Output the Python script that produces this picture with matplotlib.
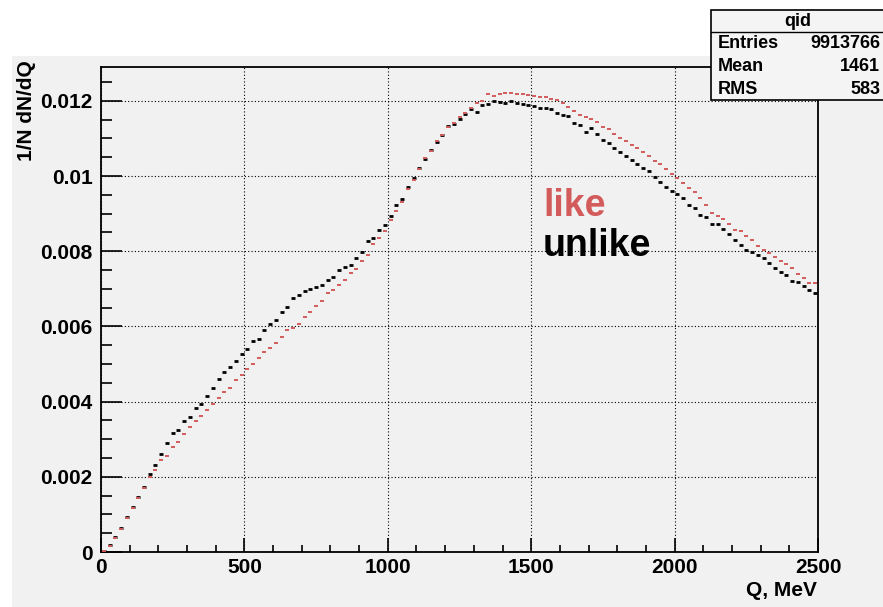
import numpy as np
import matplotlib
matplotlib.use("Agg")
import matplotlib.pyplot as plt
from matplotlib.patches import Rectangle
from matplotlib.ticker import MultipleLocator, FuncFormatter

# Q histogram, 125 bins of 20 MeV from 0 to 2500 MeV
BIN_WIDTH = 20
Q_MIN, Q_MAX = 0, 2500

# normalised 1/N dN/dQ, unlike-sign pairs
unlike = [
    0.00003, 0.00018, 0.00039, 0.00064, 0.00094, 0.00120, 0.00146, 0.00174, 0.00208, 0.00232,
    0.00260, 0.00290, 0.00317, 0.00325, 0.00348, 0.00359, 0.00382, 0.00393, 0.00416, 0.00437,
    0.00460, 0.00478, 0.00491, 0.00509, 0.00526, 0.00540, 0.00560, 0.00566, 0.00591, 0.00607,
    0.00617, 0.00638, 0.00652, 0.00676, 0.00683, 0.00693, 0.00699, 0.00706, 0.00711, 0.00724,
    0.00731, 0.00749, 0.00758, 0.00764, 0.00781, 0.00799, 0.00826, 0.00835, 0.00856, 0.00871,
    0.00895, 0.00922, 0.00940, 0.00970, 0.00994, 0.01022, 0.01046, 0.01068, 0.01090, 0.01109,
    0.01133, 0.01138, 0.01152, 0.01166, 0.01177, 0.01171, 0.01189, 0.01192, 0.01199, 0.01197,
    0.01195, 0.01199, 0.01193, 0.01191, 0.01189, 0.01187, 0.01181, 0.01180, 0.01178, 0.01168,
    0.01162, 0.01160, 0.01140, 0.01136, 0.01118, 0.01128, 0.01111, 0.01096, 0.01087, 0.01075,
    0.01063, 0.01054, 0.01043, 0.01031, 0.01021, 0.01014, 0.00997, 0.00985, 0.00970, 0.00959,
    0.00952, 0.00941, 0.00924, 0.00915, 0.00897, 0.00891, 0.00873, 0.00873, 0.00860, 0.00846,
    0.00831, 0.00816, 0.00804, 0.00798, 0.00789, 0.00781, 0.00769, 0.00756, 0.00745, 0.00736,
    0.00722, 0.00719, 0.00707, 0.00696, 0.00688,
]

# normalised 1/N dN/dQ, like-sign pairs
like = [
    0.00003, 0.00016, 0.00037, 0.00062, 0.00090, 0.00118, 0.00144, 0.00170, 0.00200, 0.00219,
    0.00244, 0.00256, 0.00279, 0.00292, 0.00314, 0.00332, 0.00348, 0.00362, 0.00378, 0.00393,
    0.00409, 0.00425, 0.00436, 0.00457, 0.00472, 0.00487, 0.00501, 0.00516, 0.00532, 0.00543,
    0.00555, 0.00573, 0.00591, 0.00596, 0.00607, 0.00625, 0.00638, 0.00655, 0.00668, 0.00690,
    0.00696, 0.00710, 0.00724, 0.00742, 0.00754, 0.00775, 0.00791, 0.00819, 0.00834, 0.00853,
    0.00884, 0.00908, 0.00932, 0.00965, 0.00990, 0.01018, 0.01048, 0.01066, 0.01094, 0.01108,
    0.01130, 0.01140, 0.01156, 0.01168, 0.01180, 0.01195, 0.01200, 0.01217, 0.01213, 0.01219,
    0.01222, 0.01222, 0.01219, 0.01217, 0.01215, 0.01212, 0.01211, 0.01209, 0.01206, 0.01202,
    0.01193, 0.01184, 0.01173, 0.01162, 0.01158, 0.01153, 0.01143, 0.01131, 0.01125, 0.01113,
    0.01102, 0.01093, 0.01083, 0.01074, 0.01063, 0.01054, 0.01040, 0.01031, 0.01019, 0.01005,
    0.00994, 0.00981, 0.00968, 0.00957, 0.00942, 0.00924, 0.00902, 0.00893, 0.00887, 0.00872,
    0.00857, 0.00853, 0.00840, 0.00829, 0.00813, 0.00804, 0.00795, 0.00784, 0.00774, 0.00765,
    0.00756, 0.00740, 0.00729, 0.00716, 0.00716,
]

stats_title = "qid"
stats_rows = [("Entries", "9913766"), ("Mean", "1461"), ("RMS", "583")]

CANVAS = "#f1f1f1"
RED = "#d35b5b"
FONT = "Liberation Sans"

plt.rcParams["font.family"] = [FONT, "DejaVu Sans"]
plt.rcParams["font.weight"] = "bold"

centers = np.arange(Q_MIN + BIN_WIDTH / 2, Q_MAX, BIN_WIDTH)

fig = plt.figure(figsize=(8.83, 6.07), dpi=100, facecolor="white")

# grey ROOT canvas, behind the axes
fig.patches.append(Rectangle((12 / 883, 0), 1, 1 - 56 / 607, transform=fig.transFigure,
                             facecolor=CANVAS, edgecolor="none", zorder=-10))

ax = fig.add_axes([101 / 883, 1 - 552 / 607, 717 / 883, 485 / 607])
ax.set_facecolor(CANVAS)
ax.set_xlim(Q_MIN, Q_MAX)
ax.set_ylim(0, 0.0129)

ax.plot(centers, unlike, linestyle="none", marker="_", markersize=3.5,
        markeredgewidth=2.0, color="black", zorder=3)
ax.plot(centers, like, linestyle="none", marker="_", markersize=2.6,
        markeredgewidth=1.4, color=RED, zorder=4)

for s in ax.spines.values():
    s.set_linewidth(1.3)
    s.set_color("black")

ax.xaxis.set_major_locator(MultipleLocator(500))
ax.xaxis.set_minor_locator(MultipleLocator(100))
ax.yaxis.set_major_locator(MultipleLocator(0.002))
ax.yaxis.set_minor_locator(MultipleLocator(0.0005))
ax.yaxis.set_major_formatter(FuncFormatter(lambda v, p: "0" if v == 0 else f"{v:g}"))
ax.tick_params(axis="both", which="both", direction="in", top=False, right=False,
               width=1.2, color="black", labelsize=15)
ax.tick_params(axis="y", which="major", length=15, pad=6)
ax.tick_params(axis="y", which="minor", length=8)
ax.tick_params(axis="x", which="major", length=10, pad=4)
ax.tick_params(axis="x", which="minor", length=5)
for lab in ax.get_xticklabels() + ax.get_yticklabels():
    lab.set_fontweight("bold")
ax.grid(True, which="major", linestyle=(0, (1, 2)), color="black", linewidth=0.8)
ax.set_axisbelow(True)

ax.text(1541, 0.00893, "like", color=RED, fontsize=27, fontweight="bold", va="baseline")
ax.text(1541, 0.00787, "unlike", color="black", fontsize=27, fontweight="bold", va="baseline")

fig.text(27 / 883, 1 - 60 / 607, "1/N dN/dQ", rotation=90, ha="center", va="top",
         fontsize=15, fontweight="bold")
fig.text(817 / 883, 1 - 590 / 607, "Q, MeV", ha="right", va="center",
         fontsize=15, fontweight="bold")

# stats box
bx0, by0, bx1, by1 = 711, 10, 884, 100
fig.patches.append(Rectangle((bx0 / 883, 1 - by1 / 607), (bx1 - bx0) / 883, (by1 - by0) / 607,
                             transform=fig.transFigure, facecolor="#f4f4f4",
                             edgecolor="black", linewidth=1.2, zorder=5))
fig.add_artist(plt.Line2D([bx0 / 883, 1], [1 - 32 / 607, 1 - 32 / 607],
                          transform=fig.transFigure, color="black", linewidth=1.0, zorder=6))
fig.text((bx0 + bx1) / 2 / 883, 1 - 21 / 607, stats_title, ha="center", va="center",
         fontsize=13, fontweight="bold", zorder=7)
for i, (name, val) in enumerate(stats_rows):
    yy = 1 - (44 + i * 22.5) / 607
    fig.text(718 / 883, yy, name, ha="left", va="center", fontsize=13, fontweight="bold", zorder=7)
    fig.text(880 / 883, yy, val, ha="right", va="center", fontsize=13, fontweight="bold", zorder=7)

fig.savefig("out.png", dpi=100, facecolor=fig.get_facecolor())
